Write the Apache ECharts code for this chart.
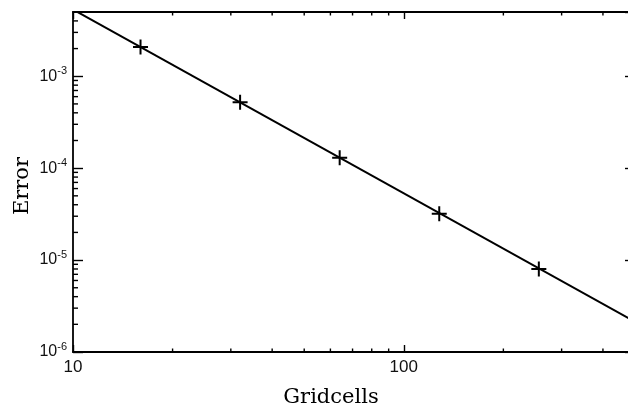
<!DOCTYPE html>
<html>
<head>
<meta charset="utf-8">
<script src="https://cdn.jsdelivr.net/npm/echarts@6/dist/echarts.min.js"></script>
<style>
html,body{margin:0;padding:0;background:#fff;}
#c{width:628px;height:409px;}
</style>
</head>
<body>
<div id="c"></div>
<script>
// Data
const gridcells = [16, 32, 64, 128, 256];
const errors = [2.08e-3, 5.2e-4, 1.3e-4, 3.2e-5, 8.0e-6];
const fitX = [10, 500];
const fitY = [5.32e-3, 2.13e-6];
const xMinorTicks = [20, 30, 40, 50, 60, 70, 80, 90, 200, 300, 400];
const yMinorTicks = [2e-6,3e-6,4e-6,5e-6,6e-6,7e-6,8e-6,9e-6,
                     2e-5,3e-5,4e-5,5e-5,6e-5,7e-5,8e-5,9e-5,
                     2e-4,3e-4,4e-4,5e-4,6e-4,7e-4,8e-4,9e-4,
                     2e-3,3e-3,4e-3];
const X_MIN = 10, X_MAX = 500, Y_MIN = 1e-6, Y_MAX = 5e-3;
const xTitle = 'Gridcells';
const yTitle = 'Error';

const chart = echarts.init(document.getElementById('c'), null, {renderer: 'canvas'});
const axisLine = {show: true, lineStyle: {color: '#000', width: 1.8}};
const tickFont = 'Liberation Sans';

const option = {
  animation: false,
  backgroundColor: '#fff',
  grid: {left: 73, right: -7, top: 12, bottom: 57, outerBoundsMode: 'none', containLabel: false},
  xAxis: [
    {type: 'log', logBase: 10, min: X_MIN, max: X_MAX, position: 'bottom',
     axisLine: axisLine, axisTick: {show: true, inside: true, length: 7, lineStyle: {color: '#000', width: 1.4}},
     axisLabel: {show: true, margin: 7, color: '#111', fontFamily: tickFont, fontSize: 17,
                 showMaxLabel: false, formatter: v => String(Math.round(v))},
     splitLine: {show: false}},
    {type: 'log', logBase: 10, min: X_MIN, max: X_MAX, position: 'top',
     axisLine: axisLine, axisTick: {show: true, inside: true, length: 7, lineStyle: {color: '#000', width: 1.4}},
     axisLabel: {show: false}, splitLine: {show: false}}
  ],
  yAxis: [
    {type: 'log', logBase: 10, min: Y_MIN, max: Y_MAX, position: 'left',
     axisLine: axisLine, axisTick: {show: true, inside: true, length: 10, lineStyle: {color: '#000', width: 1.4}},
     axisLabel: {show: true, margin: 6, showMaxLabel: false,
       formatter: v => '{b|10}{s|' + Math.round(Math.log10(v)) + '}',
       rich: {
         b: {fontFamily: tickFont, fontSize: 16, color: '#111', padding: [0, 0, 0, 0]},
         s: {fontFamily: tickFont, fontSize: 11, color: '#111', padding: [0, 0, 10, 0]}
       }},
     splitLine: {show: false}},
    {type: 'log', logBase: 10, min: Y_MIN, max: Y_MAX, position: 'right',
     axisLine: axisLine, axisTick: {show: true, inside: true, length: 10, lineStyle: {color: '#000', width: 1.4}},
     axisLabel: {show: false}, splitLine: {show: false}}
  ],
  graphic: [
    {type: 'text', x: 331, y: 398, style: {text: xTitle, font: '21px "DejaVu Serif"', fill: '#000', align: 'center', verticalAlign: 'middle'}},
    {type: 'text', x: 23, y: 186, rotation: Math.PI / 2, style: {text: yTitle, font: '21px "DejaVu Serif"', fill: '#000', align: 'center', verticalAlign: 'middle'}}
  ],
  series: [
    {type: 'line', data: fitX.map((x, i) => [x, fitY[i]]), showSymbol: false, symbol: 'none',
     lineStyle: {color: '#000', width: 2}, clip: true, z: 3},
    {type: 'scatter', data: gridcells.map((x, i) => [x, errors[i]]),
     symbol: 'path://M-1,-7.5H1V7.5H-1Z M-7.5,-1H7.5V1H-7.5Z', symbolSize: 15,
     itemStyle: {color: '#000', opacity: 1}, z: 4},
    {type: 'custom', data: xMinorTicks.map(v => [v, Y_MIN]), clip: false, silent: true,
     renderItem: (params, api) => {
       const v = api.value(0);
       const b = api.coord([v, Y_MIN]);
       const t = api.coord([v, Y_MAX]);
       return {type: 'group', children: [
         {type: 'line', shape: {x1: b[0], y1: b[1], x2: b[0], y2: b[1] - 3.5}, style: {stroke: '#000', lineWidth: 1.4}},
         {type: 'line', shape: {x1: t[0], y1: t[1], x2: t[0], y2: t[1] + 3.5}, style: {stroke: '#000', lineWidth: 1.4}}
       ]};
     }},
    {type: 'custom', data: yMinorTicks.map(v => [X_MIN, v]), clip: false, silent: true,
     renderItem: (params, api) => {
       const v = api.value(1);
       const l = api.coord([X_MIN, v]);
       const r = api.coord([X_MAX, v]);
       return {type: 'group', children: [
         {type: 'line', shape: {x1: l[0], y1: l[1], x2: l[0] + 5, y2: l[1]}, style: {stroke: '#000', lineWidth: 1.4}},
         {type: 'line', shape: {x1: r[0], y1: r[1], x2: r[0] - 5, y2: r[1]}, style: {stroke: '#000', lineWidth: 1.4}}
       ]};
     }}
  ]
};
chart.setOption(option);
</script>
</body>
</html>
